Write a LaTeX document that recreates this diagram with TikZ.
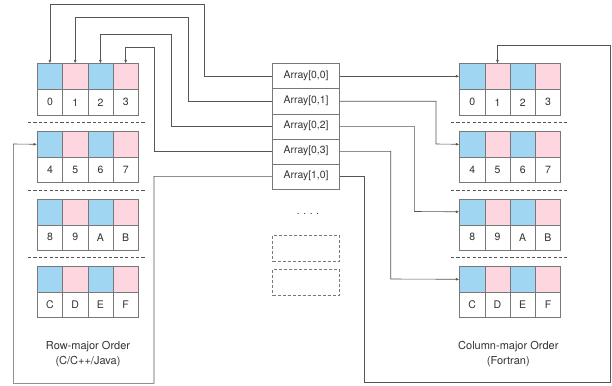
\documentclass[tikz,border=0pt]{standalone}
\usepackage{fontspec}
\setmainfont{TeX Gyre Heros}
\usetikzlibrary{arrows.meta}
\definecolor{cblue}{RGB}{160,214,242}
\definecolor{cpink}{RGB}{253,214,224}
\definecolor{cellgray}{RGB}{120,120,120}
\definecolor{linegray}{RGB}{85,85,85}
\definecolor{txtgray}{RGB}{50,50,50}
\tikzset{
  cellbox/.style={draw=cellgray, line width=0.6pt, minimum width=25.25pt, inner sep=0pt, anchor=north west},
  topcell/.style={cellbox, minimum height=26pt},
  numcell/.style={cellbox, minimum height=25pt, font=\fontsize{10.5}{12}\selectfont, text=txtgray},
  arrbox/.style={draw=cellgray, line width=0.6pt, minimum width=67pt, minimum height=25pt, inner sep=0pt, anchor=north west, font=\fontsize{10.4}{12}\selectfont, text=txtgray},
  ghost/.style={draw=cellgray, dashed, dash pattern=on 3pt off 2pt, line width=0.6pt, minimum width=67pt, minimum height=25.7pt, inner sep=0pt, anchor=north west},
  sep/.style={draw=linegray, line width=1pt, dash pattern=on 3.2pt off 2.2pt},
  conn/.style={draw=linegray, line width=0.6pt},
  arr/.style={conn, -{Latex[length=3.5pt,width=2.8pt]}},
  caption/.style={font=\fontsize{11}{14.3}\selectfont, text=txtgray, align=center}
}
\begin{document}
\begin{tikzpicture}[x=1pt,y=-1pt]
\useasboundingbox (0,0) rectangle (612,385);
% blocks
\foreach \k/\labs in {0/{0,1,2,3},1/{4,5,6,7},2/{8,9,A,B},3/{C,D,E,F}}{
  \foreach \lab [count=\j from 0] in \labs {
    \pgfmathsetmacro{\yy}{63.5+67.5*\k}
    \pgfmathsetmacro{\xl}{37+25.25*\j}
    \pgfmathsetmacro{\xr}{459.3+25.25*\j}
    \pgfmathtruncatemacro{\odd}{mod(\j,2)}
    \ifnum\odd=0 \def\fc{cblue}\else\def\fc{cpink}\fi
    \node[topcell, fill=\fc] (L\k\j) at (\xl,\yy) {};
    \node[numcell] (LN\k\j) at (\xl,\yy+26) {\lab};
    \node[topcell, fill=\fc] (R\k\j) at (\xr,\yy) {};
    \node[numcell] (RN\k\j) at (\xr,\yy+26) {\lab};
  }
}
% separators
\foreach \s in {0,1,2}{
  \pgfmathsetmacro{\ys}{122.5+67.5*\s}
  \draw[sep] (28,\ys) -- (145,\ys);
  \draw[sep] (451,\ys) -- (567,\ys);
}
% array
\node[arrbox] (A00) at (272.3,63.5) {Array[0,0]};
\node[arrbox] (A01) at (272.3,88.5) {Array[0,1]};
\node[arrbox] (A02) at (272.3,113.5) {Array[0,2]};
\node[arrbox] (A03) at (272.3,138.5) {Array[0,3]};
\node[arrbox] (A10) at (272.3,163.5) {Array[1,0]};
\node[font=\fontsize{10}{12}\selectfont, text=txtgray] (dots) at (308,213.5) {. . . .};
\node[ghost] (G1) at (272.3,235) {};
\node[ghost] (G2) at (272.3,269.3) {};
% captions
\node[caption] (capL) at (88,354) {Row-major Order\\(C/C++/Java)};
\node[caption] (capR) at (508.3,354) {Column-major Order\\(Fortran)};
% left connectors
\draw[arr] (A00.west) -| (204,4.3) -| (L00.north);
\draw[arr] (A01.west) -| (188.3,17.3) -| (L01.north);
\draw[arr] (A02.west) -| (171.7,34) -| (L02.north);
\draw[arr] (A03.west) -| (154,47.3) -| (L03.north);
\draw[arr] (A10.west) -| (154,383.3) -| (13.3,144) -- (L10.west);
% right connectors
\draw[arr] (A00.east) -- (A00.east -| R00.west);
\draw[arr] (A01.east) -| (436,144) -- (R10.west);
\draw[arr] (A02.east) -| (414.3,211.5) -- (R20.west);
\draw[arr] (A03.east) -| (390.7,279) -- (R30.west);
\draw[arr] (A10.east) -| (364.3,382.3) -| (610,45) -| (R01.north);
\end{tikzpicture}
\end{document}
